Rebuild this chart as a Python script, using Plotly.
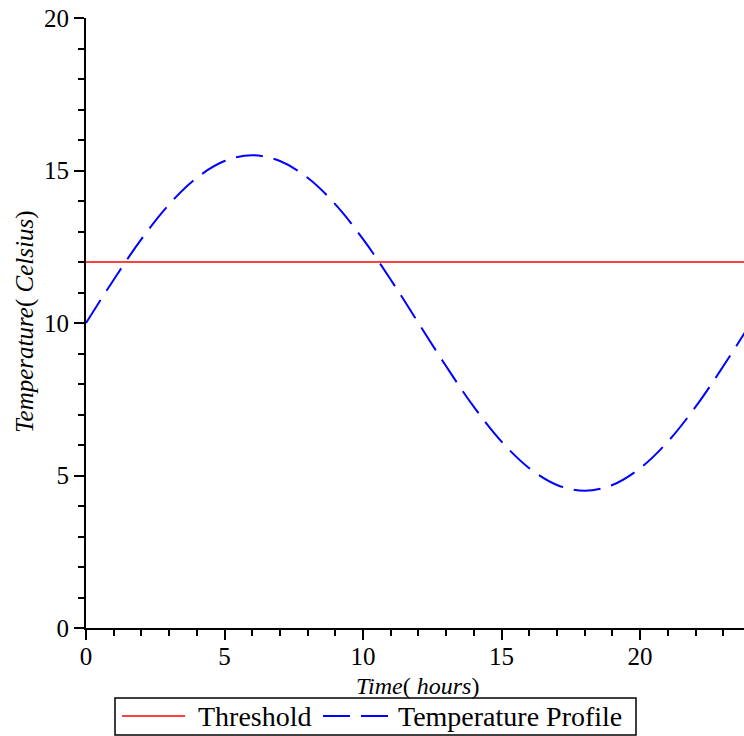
import plotly.graph_objects as go

# Data
hours = [0, 1, 2, 3, 4, 5, 6, 7, 8, 9, 10, 11, 12, 13, 14, 15, 16, 17, 18, 19, 20, 21, 22, 23, 24]
temperature = [10.0, 11.42, 12.75, 13.89, 14.76, 15.31, 15.5, 15.31, 14.76, 13.89, 12.75, 11.42,
               10.0, 8.58, 7.25, 6.11, 5.24, 4.69, 4.5, 4.69, 5.24, 6.11, 7.25, 8.58, 10.0]
threshold_x = [0, 24]
threshold_y = [12, 12]
x_ticks = [0, 5, 10, 15, 20]
y_ticks = [0, 5, 10, 15, 20]
series_names = ["Threshold", "Temperature Profile"]
series_colors = ["#ff0000", "#0000ff"]

FONT = "Liberation Serif"
DASH = "27px,11px"

fig = go.Figure()
fig.add_trace(go.Scatter(x=threshold_x, y=threshold_y, mode="lines", name=series_names[0],
                         line=dict(color=series_colors[0], width=1.6)))
fig.add_trace(go.Scatter(x=hours, y=temperature, mode="lines", name=series_names[1],
                         line=dict(color=series_colors[1], width=2, dash=DASH, shape="spline")))

# Plot area in pixels: x 86..744, y 18..628
L, R, T, B = 86, 744, 18, 628
def px(x):
    return (x - L) / (R - L)
def py(y):
    return (B - y) / (B - T)

legend_y = py(716)
shapes = [
    dict(type="rect", xref="paper", yref="paper", x0=px(115), x1=px(636), y0=py(735), y1=py(698),
         line=dict(color="black", width=1.5), fillcolor="white"),
    dict(type="line", xref="paper", yref="paper", x0=px(122), x1=px(185), y0=legend_y, y1=legend_y,
         line=dict(color=series_colors[0], width=1.6)),
    dict(type="line", xref="paper", yref="paper", x0=px(323), x1=px(388), y0=legend_y, y1=legend_y,
         line=dict(color=series_colors[1], width=2, dash=DASH)),
]

annotations = [
    dict(text="<i>Time</i>( <i>hours</i>)", x=px(417), xref="paper", y=py(686), yref="paper",
         xanchor="center", yanchor="middle", showarrow=False, font=dict(size=24, family=FONT)),
    dict(text="<i>Temperature</i>( <i>Celsius</i>)", x=px(25), xref="paper", y=py(322), yref="paper",
         xanchor="center", yanchor="middle", textangle=-90, showarrow=False,
         font=dict(size=25, family=FONT)),
    dict(text=series_names[0], x=px(196), xref="paper", y=legend_y, yref="paper",
         xanchor="left", yanchor="middle", showarrow=False, font=dict(size=28, family=FONT)),
    dict(text=series_names[1], x=px(396), xref="paper", y=legend_y, yref="paper",
         xanchor="left", yanchor="middle", showarrow=False, font=dict(size=28, family=FONT)),
]

fig.update_layout(
    width=744, height=736,
    margin=dict(l=L, r=744 - R, t=T, b=736 - B),
    plot_bgcolor="white", paper_bgcolor="white",
    font=dict(family=FONT, color="black", size=24),
    showlegend=False,
    shapes=shapes,
    annotations=annotations,
)
fig.update_xaxes(range=[0, 23.75], showgrid=False, zeroline=False, showline=True,
                 linecolor="black", linewidth=2, ticks="outside", ticklen=10, tickwidth=1.5,
                 tickcolor="black", tickvals=x_ticks, tickfont=dict(size=25, family=FONT),
                 ticklabelstandoff=-5,
                 minor=dict(dtick=1, ticks="outside", ticklen=6, tickwidth=1.5, tickcolor="black"))
fig.update_yaxes(range=[0, 20], showgrid=False, zeroline=False, showline=True,
                 linecolor="black", linewidth=2, ticks="outside", ticklen=10, tickwidth=1.5,
                 tickcolor="black", tickvals=y_ticks, tickfont=dict(size=25, family=FONT),
                 minor=dict(dtick=1, ticks="outside", ticklen=6, tickwidth=1.5, tickcolor="black"))

fig.write_html("out.html")
